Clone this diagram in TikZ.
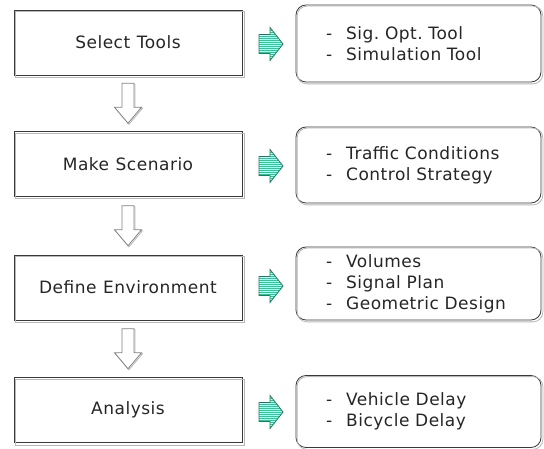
\documentclass[tikz,border=0pt]{standalone}
\usepackage{fontspec}
\setmainfont{DejaVu Sans}[LetterSpace=3]
\usetikzlibrary{calc}
\definecolor{frame}{HTML}{3A3A3A}
\definecolor{framelt}{HTML}{B8B8B8}
\definecolor{mintdark}{HTML}{2E7264}
\definecolor{mint}{HTML}{3CBE96}
\definecolor{mintlt}{HTML}{E2FAF1}
\definecolor{stepgray}{HTML}{808080}
\newcommand{\itm}[1]{-\hspace{14pt}#1}
\newcommand{\boxfont}{\fontsize{17}{21}\selectfont\spaceskip=6.5pt plus 1pt minus 1pt\relax}
\tikzset{
  pics/flowarrow/.style={code={
    \begin{scope}
      \clip (-12,-9.5) -- (-1,-9.5) -- (-1,-16.5) -- (12,0) -- (-1,16.5) -- (-1,9.5) -- (-12,9.5) -- cycle;
      \fill[mint] (-13,-18) rectangle (13,18);
      \foreach \k in {-16.5,-14.5,...,17} \draw[mintlt, line width=1pt] (-13,\k) -- (13,\k);
    \end{scope}
    \draw[mintdark, line width=0.8pt, line join=miter]
      (-12,-9.5) -- (-1,-9.5) -- (-1,-16.5) -- (12,0) -- (-1,16.5) -- (-1,9.5) -- (-12,9.5) -- cycle;
  }},
  pics/downarrow/.style={code={
    \draw[framelt, line width=0.8pt]
      (-5,-19) -- (7,-19) -- (7,5) -- (14.5,5) -- (1,21) -- (-12.5,5) -- (-5,5) -- cycle;
    \draw[stepgray, line width=0.8pt, fill=white]
      (-6,-20) -- (6,-20) -- (6,4) -- (13.5,4) -- (0,20) -- (-13.5,4) -- (-6,4) -- cycle;
  }},
}
\begin{document}
\begin{tikzpicture}[x=1pt,y=-1pt,
  every node/.style={font=\boxfont, text=black!85},
  stage/.style={rectangle, draw=frame, line width=0.8pt, fill=white,
    minimum width=228pt, minimum height=65pt, inner sep=0pt},
  detail/.style={rectangle, rounded corners=10pt, draw=frame, line width=0.8pt, fill=white,
    text width=185pt, inner xsep=30pt, inner ysep=0pt, align=left},
]
\useasboundingbox[fill=white] (0,0) rectangle (544,449);

% process steps
\node[stage] (L1) at (128,42.5) {Select Tools};
\node[stage] (L2) at (128,164) {Make Scenario};
\node[stage] (L3) at (128,287.5) {Define Environment};
\node[stage] (L4) at (128,410) {Analysis};

% step details
\node[detail, minimum height=77pt] (R1) at (418.5,43.5)
  {\itm{Sig.\ Opt.\ Tool}\\ \itm{Simulation Tool}};
\node[detail, minimum height=76pt] (R2) at (418.5,165)
  {\itm{Traffic Conditions}\\ \itm{Control Strategy}};
\node[detail, minimum height=73pt] (R3) at (418.5,283.5)
  {\itm{Volumes}\\ \itm{Signal Plan}\\ \itm{Geometric Design}};
\node[detail, minimum height=72pt] (R4) at (418.5,411.5)
  {\itm{Vehicle Delay}\\ \itm{Bicycle Delay}};

% embossed second outline
\foreach \n in {L1,L2,L3,L4}
  \draw[framelt, line width=0.8pt] ($(\n.north west)+(2,2)$) rectangle ($(\n.south east)+(2,2)$);
\foreach \n in {R1,R2,R3,R4}
  \draw[framelt, line width=0.8pt, rounded corners=10pt]
    ($(\n.north west)+(1.5,1.5)$) rectangle ($(\n.south east)+(1.5,1.5)$);

% arrows from each step to its details (heights kept on whole points so the stripes stay crisp)
\foreach \n/\y in {1/44, 2/166, 3/286, 4/412} {
  \coordinate (m\n) at ($(L\n.east)!0.5!(R\n.west)+(2,0)$);
  \pic at (m\n |- 0,\y) {flowarrow};
}

% arrows between steps
\pic at ($(L1.south)!0.5!(L2.north)$) {downarrow};
\pic at ($(L2.south)!0.5!(L3.north)$) {downarrow};
\pic at ($(L3.south)!0.5!(L4.north)$) {downarrow};
\end{tikzpicture}
\end{document}
